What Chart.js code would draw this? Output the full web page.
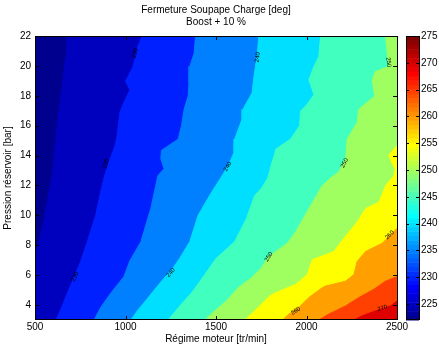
<!DOCTYPE html>
<html>
<head>
<meta charset="utf-8">
<script src="https://cdn.jsdelivr.net/npm/chart.js@4.4.1/dist/chart.umd.min.js"></script>
<style>
  body { margin: 0; background: #fff; }
</style>
</head>
<body>
<canvas id="myChart" width="439" height="350"></canvas>
<script>
const xTicks = [500, 1000, 1500, 2000, 2500];
const yTicks = [4, 6, 8, 10, 12, 14, 16, 18, 20, 22];
const cbTicks = [225, 230, 235, 240, 245, 250, 255, 260, 265, 270, 275];
const levels = [225, 230, 235, 240, 245, 250, 255, 260, 265, 270];

// contour lines, [régime tr/min, pression bar]
const c225 = [[677, 22], [677, 21.1], [666, 20.3], [649, 18.5], [627, 16.5], [610, 14.5], [594, 12.65], [572, 11.2], [550, 9.75], [522, 8.2], [500, 7.2]];
const c230 = [[1092, 22], [1068, 21.3], [1042, 19.96], [1000, 18.97], [1024, 18.4], [991, 17.55], [969, 16.9], [951, 15.1], [936, 14.45], [908, 13.57], [881, 12.5], [862, 11.55], [835, 10.0], [789, 8.24], [752, 6.92], [715, 5.84], [669, 4.52], [632, 3.4], [614, 3]];
const c235 = [[1387, 22], [1379, 20.84], [1355, 19.96], [1351, 18.86], [1346, 17.98], [1324, 17.1], [1309, 16.0], [1291, 15.1], [1199, 14.35], [1195, 13.8], [1213, 13.13], [1179, 12.65], [1140, 10.47], [1085, 8.24], [1024, 6.96], [991, 5.9], [919, 4.8], [864, 3.86], [826, 3]];
const c240 = [[1736, 22], [1729, 20.84], [1710, 19.3], [1699, 18.2], [1649, 17.1], [1644, 16.44], [1603, 15.1], [1600, 14.23], [1570, 13.38], [1526, 12.5], [1475, 11.54], [1401, 10.0], [1355, 8.24], [1300, 7.14], [1263, 6.48], [1199, 5.6], [1162, 5.05], [1118, 4.39], [1068, 3.66], [1030, 3]];
const c245 = [[2078, 22], [2068, 20.63], [2041, 19.96], [2013, 19.08], [2041, 18.09], [2004, 17.43], [1967, 16.99], [1962, 16.0], [1912, 15.11], [1830, 14.43], [1824, 14.1], [1808, 13.5], [1786, 12.5], [1753, 11.85], [1714, 11.33], [1668, 9.79], [1603, 8.24], [1502, 7.14], [1438, 6.04], [1373, 4.94], [1309, 4.06], [1235, 3]];
const c250 = [[2437, 22], [2446, 20.84], [2455, 19.96], [2381, 19.63], [2363, 19.08], [2377, 17.98], [2289, 17.1], [2280, 16.22], [2225, 15.11], [2216, 13.79], [2179, 12.91], [2133, 12.5], [2087, 11.99], [2013, 10.45], [1940, 8.9], [1894, 8.13], [1830, 7.58], [1791, 7.25], [1751, 6.48], [1696, 5.82], [1622, 5.16], [1558, 4.27], [1493, 3.61], [1438, 3]];
const c255 = [[2500, 14.68], [2455, 14.02], [2473, 13.5], [2490, 13.1], [2482, 12.65], [2437, 11.99], [2400, 10.88], [2326, 10.45], [2280, 9.56], [2206, 8.46], [2151, 7.58], [2032, 7.03], [2004, 6.04], [1940, 5.38], [1830, 4.83], [1797, 4.61], [1751, 4.06], [1696, 3.4], [1659, 3]];
const c260 = [[2500, 9.13], [2464, 8.68], [2418, 8.13], [2326, 7.58], [2280, 6.92], [2262, 6.04], [2216, 5.6], [2105, 5.27], [2087, 5.16], [2013, 4.5], [1958, 3.84], [1903, 3.4], [1867, 3]];
const c265 = [[2500, 5.9], [2437, 5.6], [2372, 5.05], [2289, 4.5], [2216, 3.94], [2124, 3.4], [2068, 3]];
const c270 = [[2500, 4.27], [2464, 3.94], [2381, 3.61], [2308, 3.28], [2262, 3]];
const contours = [c225, c230, c235, c240, c245, c250, c255, c260, c265, c270];

// inline contour labels
const labelText = [230, 230, 230, 240, 240, 240, 250, 250, 250, 260, 260, 270];
const labelX = [1052, 892, 721, 1730, 1565, 1250, 2453, 2210, 1791, 2459, 1940, 2420];
const labelY = [20.84, 13.44, 5.9, 20.58, 13.27, 6.17, 20.25, 13.5, 7.23, 8.68, 3.6, 3.79];

const xMin = 500, xMax = 2500, yMin = 3, yMax = 22;
const cMin = 222, cMax = 275;

Chart.defaults.font.family = '"Liberation Sans", Arial, Helvetica, sans-serif';
Chart.defaults.font.size = 10;
Chart.defaults.color = '#000';

// MATLAB jet(64)
function jet(k) {
  const t = (k + 1) / 64;
  const c = v => Math.round(255 * Math.min(1, Math.max(0, v)));
  return `rgb(${c(Math.min(4 * t - 1.5, -4 * t + 4.5))},${c(Math.min(4 * t - 0.5, -4 * t + 3.5))},${c(Math.min(4 * t + 0.5, -4 * t + 2.5))})`;
}

function levelColor(v) {
  return jet(Math.min(63, Math.floor((v - cMin) / (cMax - cMin) * 64)));
}

// position along the plot border, going down the left side, then right, then up
function perim([x, y]) {
  const h = yMax - yMin, w = xMax - xMin;
  if (x <= xMin) return yMax - y;
  if (y <= yMin) return h + (x - xMin);
  if (x >= xMax) return h + w + (y - yMin);
  return 2 * h + w + (xMax - x);
}

// close a contour around its high-value side
function closeShape(line) {
  const corners = [[xMin, yMin], [xMax, yMin], [xMax, yMax]];
  const sStart = perim(line[0]);
  const sEnd = perim(line[line.length - 1]);
  return line.concat(corners.filter(c => perim(c) > sEnd && perim(c) < sStart));
}

function segDist(px, py, ax, ay, bx, by) {
  const dx = bx - ax, dy = by - ay;
  const len = dx * dx + dy * dy || 1;
  const t = Math.max(0, Math.min(1, ((px - ax) * dx + (py - ay) * dy) / len));
  return Math.hypot(px - ax - t * dx, py - ay - t * dy);
}

const plotDecor = {
  id: 'plotDecor',
  beforeDatasetsDraw(chart) {
    const { ctx, chartArea: a } = chart;
    ctx.save();
    ctx.fillStyle = jet(0);
    ctx.fillRect(a.left, a.top, a.right - a.left, a.bottom - a.top);
    ctx.restore();
  },
  afterDatasetsDraw(chart) {
    const { ctx, chartArea: a, scales: { x, y } } = chart;
    ctx.save();

    // contour labels
    ctx.font = '6px "Liberation Sans", Arial, sans-serif';
    ctx.fillStyle = '#000';
    ctx.textAlign = 'center';
    ctx.textBaseline = 'middle';
    labelText.forEach((t, i) => {
      const line = contours[levels.indexOf(t)];
      const px = x.getPixelForValue(labelX[i]);
      const py = y.getPixelForValue(labelY[i]);
      let best = Infinity, ang = 0;
      for (let k = 0; k < line.length - 1; k++) {
        const ax = x.getPixelForValue(line[k][0]), ay = y.getPixelForValue(line[k][1]);
        const bx = x.getPixelForValue(line[k + 1][0]), by = y.getPixelForValue(line[k + 1][1]);
        const d = segDist(px, py, ax, ay, bx, by);
        if (d < best) { best = d; ang = Math.atan2(by - ay, bx - ax); }
      }
      if (ang > Math.PI / 2) ang -= Math.PI;
      if (ang < -Math.PI / 2) ang += Math.PI;
      ctx.save();
      ctx.translate(px, py);
      ctx.rotate(ang);
      ctx.fillText(String(t), 0, 0);
      ctx.restore();
    });

    // box and inward ticks
    ctx.strokeStyle = '#000';
    ctx.lineWidth = 1;
    ctx.strokeRect(a.left + 0.5, a.top + 0.5, a.right - a.left, a.bottom - a.top - 1);
    ctx.beginPath();
    xTicks.forEach(v => {
      const px = Math.round(x.getPixelForValue(v)) + 0.5;
      ctx.moveTo(px, a.bottom); ctx.lineTo(px, a.bottom - 4);
      ctx.moveTo(px, a.top); ctx.lineTo(px, a.top + 4);
    });
    yTicks.forEach(v => {
      const py = Math.round(y.getPixelForValue(v)) + 0.5;
      ctx.moveTo(a.left, py); ctx.lineTo(a.left + 4, py);
      ctx.moveTo(a.right, py); ctx.lineTo(a.right - 4, py);
    });
    ctx.stroke();
    ctx.restore();
  },
  afterDraw(chart) {
    const { ctx, scales: { cb } } = chart;
    const left = cb.left + 9, w = 13;
    const top = cb.getPixelForValue(cMax), bottom = cb.getPixelForValue(cMin);
    ctx.save();
    for (let k = 0; k < 64; k++) {
      const y0 = cb.getPixelForValue(cMin + (k + 1) * (cMax - cMin) / 64);
      const y1 = cb.getPixelForValue(cMin + k * (cMax - cMin) / 64);
      ctx.fillStyle = jet(k);
      ctx.fillRect(left, y0, w, y1 - y0 + 0.5);
    }
    ctx.strokeStyle = '#000';
    ctx.lineWidth = 1;
    ctx.strokeRect(left + 0.5, top + 0.5, w, bottom - top - 1);
    ctx.beginPath();
    cbTicks.forEach(v => {
      const py = Math.round(cb.getPixelForValue(v)) + 0.5;
      ctx.moveTo(left, py); ctx.lineTo(left + 3, py);
      ctx.moveTo(left + w, py); ctx.lineTo(left + w - 3, py);
    });
    ctx.stroke();
    ctx.restore();
  }
};

const datasets = levels.map((lev, i) => ({
  data: closeShape(contours[i]).map(([x, y]) => ({ x, y })),
  backgroundColor: levelColor(lev),
  borderColor: levelColor(lev),
  borderWidth: 1,
  pointRadius: 0,
  fill: 'shape',
  order: levels.length - i
}));

const ctx = document.getElementById('myChart').getContext('2d');

new Chart(ctx, {
  type: 'line',
  data: { datasets },
  options: {
    responsive: false,
    animation: false,
    events: [],
    layout: { padding: 0 },
    plugins: {
      legend: { display: false },
      tooltip: { enabled: false },
      title: {
        display: true,
        fullSize: false,
        text: ['Fermeture Soupape Charge [deg]', 'Boost + 10 %'],
        font: { size: 10, weight: 'normal' },
        color: '#000',
        padding: { top: 4, bottom: 8 }
      }
    },
    scales: {
      x: {
        type: 'linear',
        min: xMin,
        max: xMax,
        afterBuildTicks: s => { s.ticks = xTicks.map(v => ({ value: v })); },
        afterFit: s => { s.height = 26; },
        grid: { display: false, drawTicks: false },
        border: { display: false },
        ticks: { padding: 1, maxRotation: 0, callback: v => String(v) },
        title: { display: true, text: 'Régime moteur [tr/min]', padding: { top: 0, bottom: 1 } }
      },
      y: {
        type: 'linear',
        min: yMin,
        max: yMax,
        afterBuildTicks: s => { s.ticks = yTicks.map(v => ({ value: v })); },
        afterFit: s => { s.width = 35; },
        grid: { display: false, drawTicks: false },
        border: { display: false },
        ticks: { padding: 4, callback: v => String(v) },
        title: { display: true, text: 'Pression réservoir [bar]', padding: { top: 2, bottom: 0 } }
      },
      cb: {
        type: 'linear',
        position: 'right',
        min: cMin,
        max: cMax,
        afterBuildTicks: s => { s.ticks = cbTicks.map(v => ({ value: v })); },
        afterFit: s => { s.width = 42; },
        grid: { display: false, drawTicks: false },
        border: { display: false },
        ticks: { padding: 24, callback: v => String(v) }
      }
    }
  },
  plugins: [plotDecor]
});
</script>
</body>
</html>
